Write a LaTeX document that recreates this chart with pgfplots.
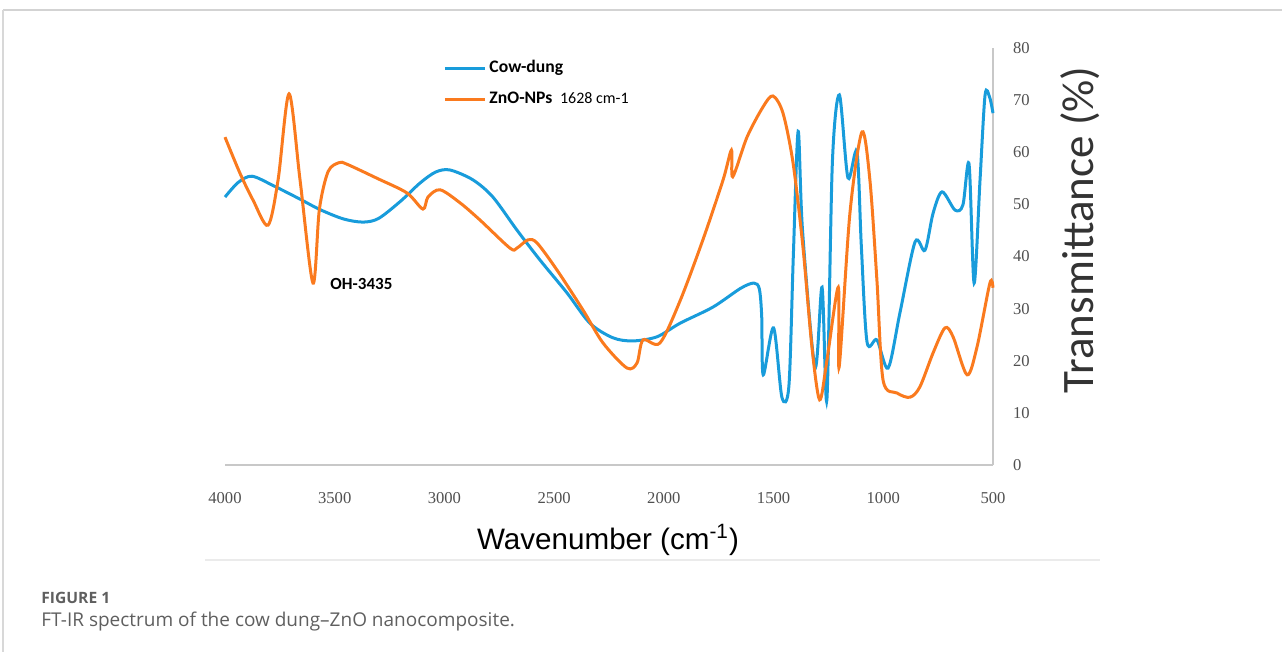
\documentclass[border=0pt]{standalone}
\usepackage{pgfplots}
\pgfplotsset{compat=1.18}
\usepackage{fontspec}
\setmainfont{Carlito}
\newfontfamily\tickfont{Liberation Serif}
\newfontfamily\arialfont{Liberation Sans}
\newfontfamily\capfont{Open Sans}
\definecolor{cowblue}{RGB}{24,156,219}
\definecolor{znoorange}{RGB}{250,122,30}
\definecolor{axgray}{RGB}{200,200,200}
\definecolor{ticktext}{RGB}{80,80,80}
\definecolor{capgray}{RGB}{95,95,95}
\begin{document}
\begin{tikzpicture}
\path[use as bounding box] (0pt,0pt) rectangle (641pt,326pt);
% page frame
\draw[axgray!80,line width=1pt] (1.5pt,321pt) -- (641pt,321pt);
\draw[axgray!70,line width=0.6pt] (1.5pt,321pt) -- (1.5pt,0pt);
\draw[black!8,line width=0.6pt] (102.5pt,46pt) -- (550pt,46pt);
\begin{axis}[
  at={(112.5pt,93.5pt)}, anchor=south west,
  scale only axis, width=384pt, height=208.5pt,
  xmin=500, xmax=4000, ymin=0, ymax=80,
  x dir=reverse,
  axis x line*=bottom, axis y line*=right,
  axis line style={axgray, line width=0.6pt},
  xtick={500,1000,...,4000}, ytick={0,10,...,80},
  major tick length=0pt,
  /pgf/number format/assume math mode=true,
  /pgf/number format/set thousands separator={},
  xticklabel style={font=\tickfont\fontsize{8.3}{9}\selectfont, text=ticktext, yshift=-10pt},
  yticklabel style={font=\tickfont\fontsize{8.3}{9}\selectfont, text=ticktext, xshift=6.5pt},
  legend style={at={(rel axis cs:0.284,0.978)}, anchor=north west, draw=none, fill=none,
    font=\bfseries\fontsize{8.8}{10}\selectfont, row sep=5pt, inner sep=0pt,
    nodes={inner sep=1.5pt}},
  legend cell align=left,
  legend image code/.code={\draw[#1,line width=1.5pt] (0pt,0pt) -- (20pt,0pt);},
  clip=false,
]
\addplot[cowblue, line width=1.5pt, smooth, tension=0.5] coordinates {
(4000,51.4) (3940,54.2) (3877,55.4) (3780,53.6) (3658,51.0) (3567,49.0) (3460,47.2) (3371,46.6)
(3300,47.3) (3200,50.6) (3111,54.1) (3040,56.2) (2975,56.6) (2870,54.7) (2779,51.4) (2670,45.1)
(2564,39.3) (2441,33.0) (2337,27.2) (2232,24.4) (2141,23.8) (2031,24.6) (1926,27.2) (1776,30.3)
(1650,33.9) (1590,34.9) (1565,33.8) (1554,28.5) (1547,17.3) (1500,26.3) (1462,13.0) (1430,15.2)
(1410,40) (1388,64.0) (1368,45) (1311,18.8) (1279,34.1) (1257,12.5) (1232,58.0) (1200,71.0)
(1161,55.1) (1120,60.1) (1100,42) (1074,23.6) (1029,24.0) (978,18.6) (924,29.2) (855,42.8)
(810,41.2) (773,48.3) (732,52.4) (673,48.9) (637,49.9) (609,57.7) (586,34.9) (559,54.7)
(536,71.0) (515,70.5) (500,67.5)
};
\addlegendentry{Cow-dung}
\addplot[znoorange, line width=1.5pt, smooth, tension=0.5] coordinates {
(4000,62.9) (3932,56.0) (3872,50.8) (3804,46.0) (3758,54.7) (3708,71.2) (3658,54.7) (3599,34.9)
(3570,49.0) (3530,56.3) (3480,58.0) (3444,57.7) (3307,55.0) (3171,52.2) (3098,49.1) (3075,51.4) (3020,52.8)
(2929,50.3) (2838,47.0) (2701,41.6) (2670,41.6) (2619,43.2) (2578,42.6) (2487,37.4) (2368,29.7)
(2277,23.4) (2168,18.6) (2122,19.6) (2095,24.0) (2018,23.4) (1926,31.5) (1822,43.2) (1730,54.7)
(1692,60.4) (1686,55.3) (1621,62.9) (1548,68.7) (1503,70.8) (1457,67.5) (1411,57.9) (1366,41.8)
(1325,22.6) (1290,12.5) (1257,20.0) (1205,34.1) (1201,18.8) (1152,48.3) (1097,63.9) (1061,54.7)
(1029,35.5) (1001,16.3) (937,13.8) (878,13.0) (833,15.0) (773,21.5) (719,26.3) (682,24.6)
(618,17.3) (573,22.6) (514,34.9) (500,34.0)
};
\addlegendentry{ZnO-NPs {\normalfont\fontsize{8}{9}\selectfont\ 1628 cm-1}}
\node[anchor=west, font=\bfseries\fontsize{8.5}{10}\selectfont, inner sep=0pt] at (axis cs:3521,34.7) {OH-3435};
\end{axis}
\node[rotate=90, font=\fontsize{22.5}{24}\selectfont, text=black!80] at (540pt,211pt) {Transmittance (\%)};
\node[font=\arialfont\fontsize{14.8}{17}\selectfont] at (304pt,56pt) {Wavenumber (cm\textsuperscript{-1})};
\node[anchor=west, font=\capfont\bfseries\fontsize{7.8}{10}\selectfont, text=capgray, inner sep=0pt] at (20.5pt,27pt) {FIGURE 1};
\node[anchor=west, font=\capfont\fontsize{9.5}{11}\selectfont, text=capgray, inner sep=0pt] at (20.5pt,15pt) {FT-IR spectrum of the cow dung–ZnO nanocomposite.};
\end{tikzpicture}
\end{document}
